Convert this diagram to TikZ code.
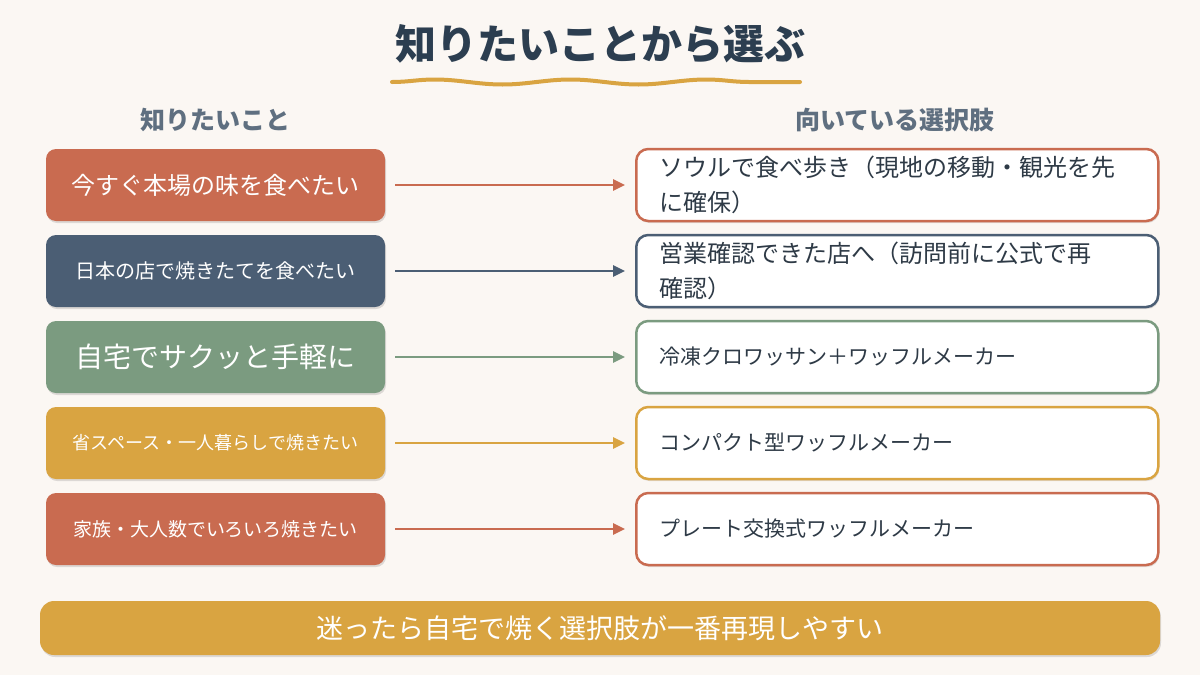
\documentclass[tikz,border=0pt]{standalone}
\usepackage{fontspec}
\setmainfont{Noto Sans CJK JP}
\usetikzlibrary{arrows.meta,shadows,decorations.pathmorphing}
\tikzset{every node/.style={font=\fontsize{20}{26}\selectfont}}
\definecolor{bgcol}{HTML}{FBF7F3}
\definecolor{titlecol}{HTML}{2C3E50}
\definecolor{headcol}{HTML}{5F6F80}
\definecolor{terracol}{HTML}{C96B50}
\definecolor{slatecol}{HTML}{4B5E74}
\definecolor{sagecol}{HTML}{7B9B80}
\definecolor{goldcol}{HTML}{D9A441}
\definecolor{textcol}{HTML}{2E3A46}

\begin{document}
\begin{tikzpicture}[x=1pt, y=-1pt, >=Triangle,
  leftbox/.style={rounded corners=10pt, minimum width=339pt, minimum height=72pt,
    inner sep=0pt, text=white,
    drop shadow={shadow xshift=1pt, shadow yshift=-2pt, opacity=0.12, fill=black}},
  rightbox/.style={draw, line width=2.5pt, fill=white, rounded corners=12pt,
    minimum width=522pt, minimum height=72pt, text width=476pt, inner xsep=22pt,
    align=left, anchor=west, text=textcol,
    drop shadow={shadow xshift=1pt, shadow yshift=-2pt, opacity=0.10, fill=black}},
  header/.style={text=headcol, font=\fontsize{25}{30}\selectfont\bfseries},
  link/.style={->, line width=2.5pt, shorten <=10pt, shorten >=10pt,
    arrows={-Triangle[length=12pt, width=11pt]}}]

  % Canvas.
  \fill[bgcol] (0,0) rectangle (1200,675);
  \useasboundingbox (0,0) rectangle (1200,675);

  % Title with wavy underline.
  \node[text=titlecol, font=\fontsize{41}{48}\selectfont\bfseries] (title) at (600,44)
    {知りたいことから選ぶ};
  \coordinate (waveL) at (392,82);
  \coordinate (waveR) at (800,82);
  \draw[goldcol, line width=4pt, line cap=round, decorate,
    decoration={snake, amplitude=2.5pt, segment length=136pt}] (waveL) -- (waveR);

  % Column headers.
  \node[header] (headL) at (215,120) {知りたいこと};
  \node[header] (headR) at (895,120) {向いている選択肢};

  % Wishes (left column).
  \node[leftbox, fill=terracol, font=\fontsize{24}{28}\selectfont] (want1) at (215.5,185)
    {今すぐ本場の味を食べたい};
  \node[leftbox, fill=slatecol, font=\fontsize{20}{24}\selectfont] (want2) at (215.5,271)
    {日本の店で焼きたてを食べたい};
  \node[leftbox, fill=sagecol, font=\fontsize{28}{32}\selectfont] (want3) at (215.5,357)
    {自宅でサクッと手軽に};
  \node[leftbox, fill=goldcol, font=\fontsize{18}{22}\selectfont] (want4) at (215.5,443)
    {省スペース・一人暮らしで焼きたい};
  \node[leftbox, fill=terracol, font=\fontsize{19}{23}\selectfont] (want5) at (215.5,529)
    {家族・大人数でいろいろ焼きたい};

  % Options (right column).
  \node[rightbox, draw=terracol, font=\fontsize{24}{35}\selectfont] (pick1) at (635,185)
    {ソウルで食べ歩き（現地の移動・観光を先\\に確保）};
  \node[rightbox, draw=slatecol, font=\fontsize{24}{35}\selectfont] (pick2) at (635,271)
    {営業確認できた店へ（訪問前に公式で再\\確認）};
  \node[rightbox, draw=sagecol, font=\fontsize{21}{26}\selectfont] (pick3) at (635,357)
    {冷凍クロワッサン＋ワッフルメーカー};
  \node[rightbox, draw=goldcol, font=\fontsize{21}{26}\selectfont] (pick4) at (635,443)
    {コンパクト型ワッフルメーカー};
  \node[rightbox, draw=terracol, font=\fontsize{21}{26}\selectfont] (pick5) at (635,529)
    {プレート交換式ワッフルメーカー};

  % Arrows.
  \draw[link, terracol] (want1) -- (pick1);
  \draw[link, slatecol] (want2) -- (pick2);
  \draw[link, sagecol] (want3) -- (pick3);
  \draw[link, goldcol] (want4) -- (pick4);
  \draw[link, terracol] (want5) -- (pick5);

  % Bottom banner.
  \node[fill=goldcol, rounded corners=14pt, minimum width=1120pt, minimum height=54pt,
    text=white, font=\fontsize{27}{32}\selectfont,
    drop shadow={shadow xshift=1pt, shadow yshift=-2pt, opacity=0.12, fill=black}]
    (advice) at (600,628) {迷ったら自宅で焼く選択肢が一番再現しやすい};

\end{tikzpicture}
\end{document}
